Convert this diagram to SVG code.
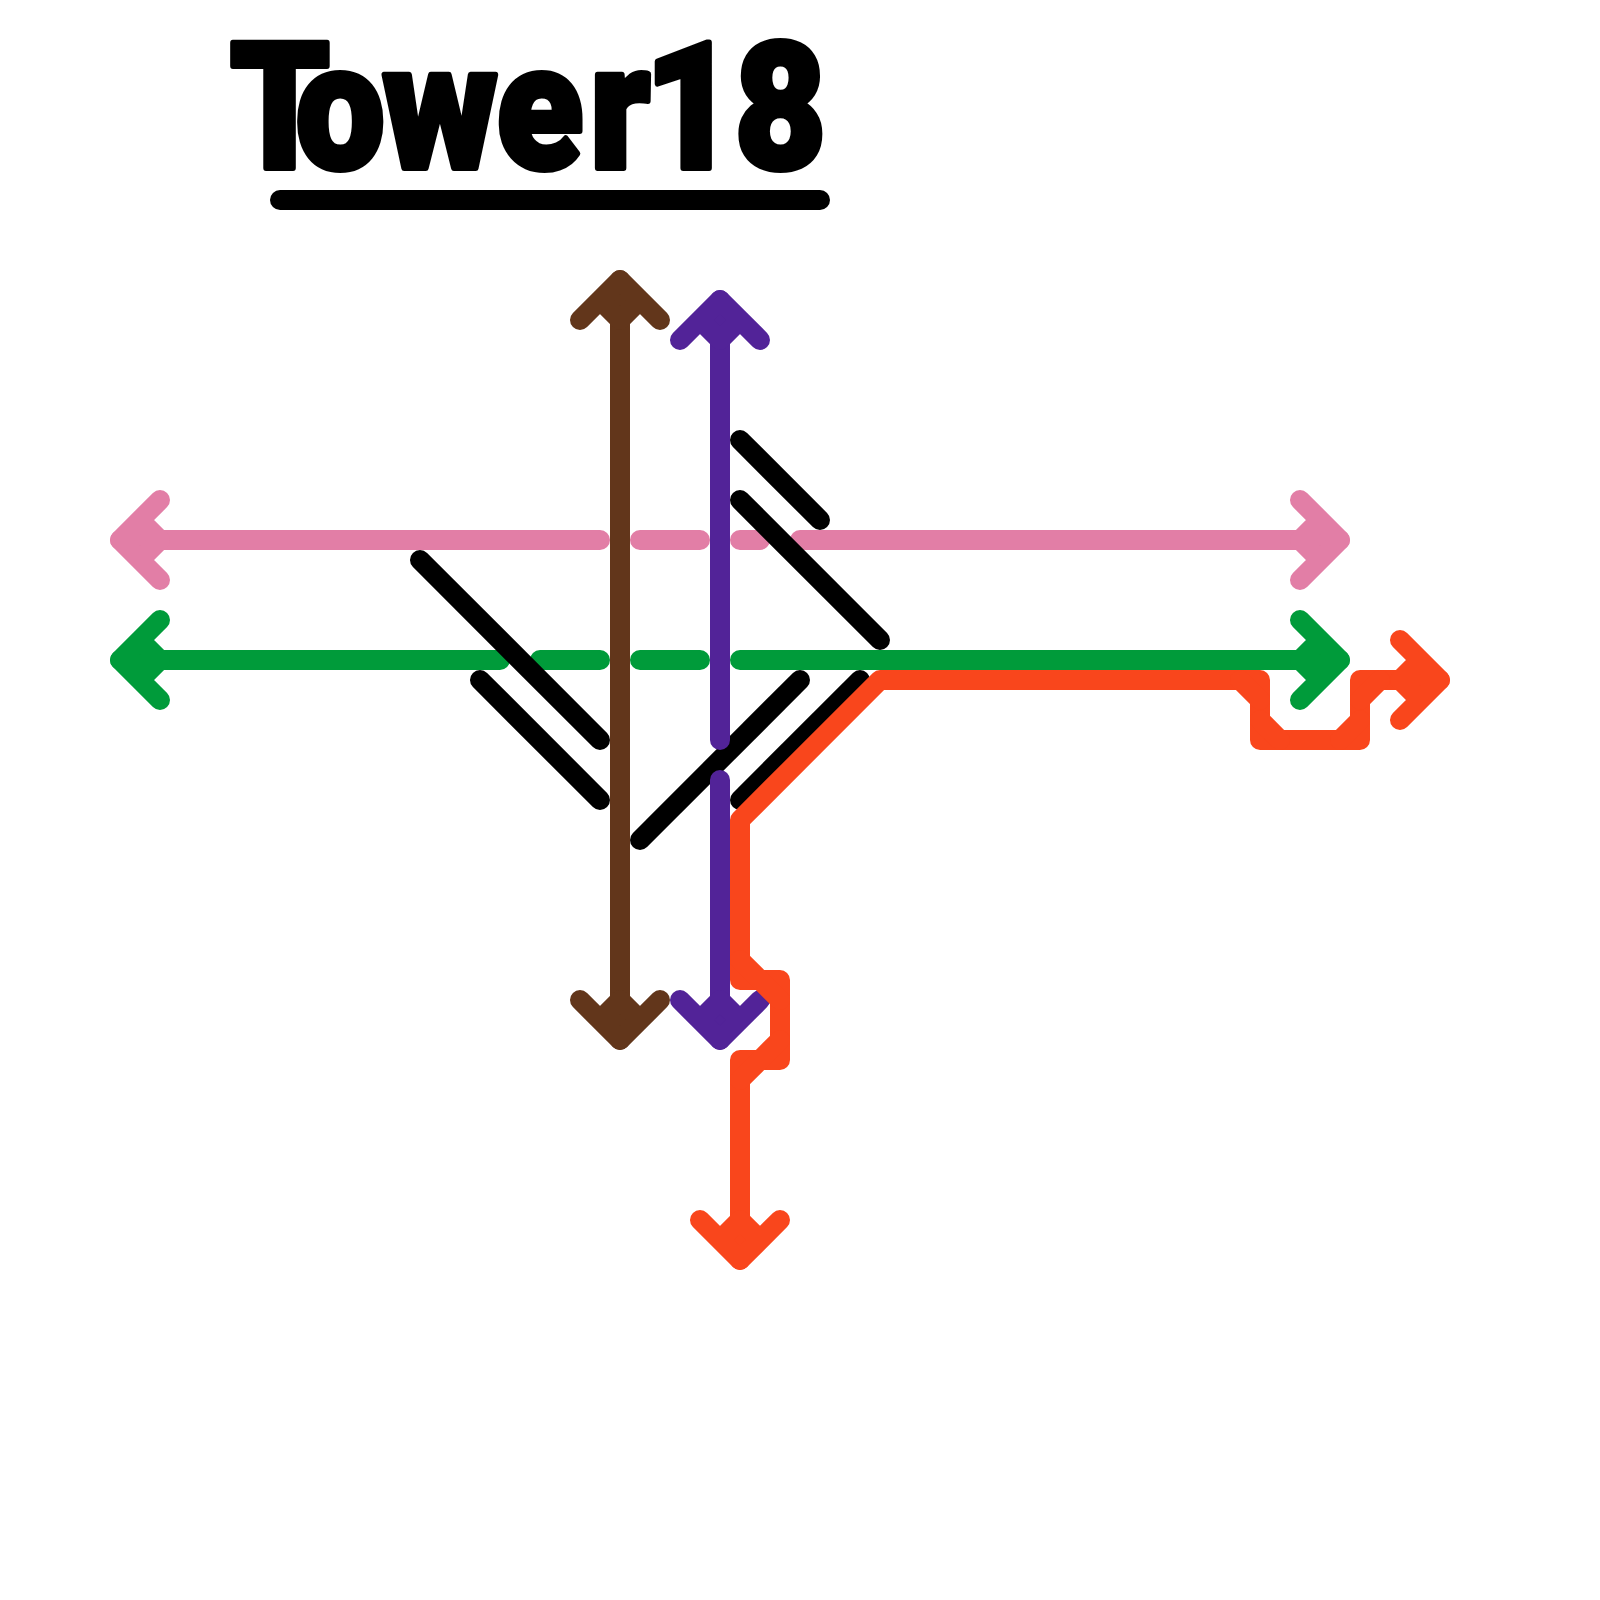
<svg xmlns="http://www.w3.org/2000/svg" width="1600" height="1600" viewBox="0 0 1600 1600">
<style>
.l{fill:none;stroke-width:20;stroke-linecap:round;stroke-linejoin:round}
.k{stroke:#000}.p{stroke:#E27EA6}.g{stroke:#009B3A}.b{stroke:#62361B}.u{stroke:#522398}.o{stroke:#F9461C}
.title{font-family:Roboto,"Liberation Sans",Arial,sans-serif;font-weight:900;font-size:176px;fill:#000;stroke:#000;stroke-width:6px;stroke-linejoin:round;text-anchor:middle}
</style>
<defs>
<path id="head" d="M-40-40L0 0L-40 40M-40 0L-20-20M-40 0L-20 20"/>
</defs>
<rect width="1600" height="1600" fill="#fff"/>
<g id="title">
<text class="title" transform="scale(.9 1)" x="311 378 489 600 689 722 767 867" y="168">Tower 18</text>
<path class="l k" d="M280 200H820"/>
</g>
<g id="connectors">
<g id="pink-line" class="l p">
<path d="M120 540H600M640 540H700M740 540H760M800 540H1340"/>
<use href="#head" transform="translate(1340 540)"/>
<use href="#head" transform="translate(120 540) rotate(180)"/>
</g>
<g id="green-line" class="l g">
<path d="M120 660H500M540 660H600M640 660H700M740 660H1340"/>
<use href="#head" transform="translate(1340 660)"/>
<use href="#head" transform="translate(120 660) rotate(180)"/>
</g>
<g id="black-lines" class="l k">
<path d="M420 560L600 740"/>
<path d="M480 680L600 800"/>
<path d="M640 840L800 680"/>
<path d="M740 800L860 680"/>
<path d="M740 440L820 520"/>
<path d="M740 500L880 640"/>
</g>
<g id="brown-line" class="l b">
<path d="M620 280V1040"/>
<use href="#head" transform="translate(620 280) rotate(-90)"/>
<use href="#head" transform="translate(620 1040) rotate(90)"/>
</g>
<g id="purple-line" class="l u">
<path d="M720 300V740M720 780V1040"/>
<use href="#head" transform="translate(720 300) rotate(-90)"/>
<use href="#head" transform="translate(720 1040) rotate(90)"/>
</g>
<g id="orange-line" class="l o">
<path d="M1440 680H1360V740H1260V680H880L740 820V980H780V1060H740V1260"/>
<path d="M1380 680L1360 700M1360 720L1340 740M1280 740L1260 720M1260 700L1240 680M740 960L760 980L780 1000M780 1040L760 1060L740 1080"/>
<use href="#head" transform="translate(1440 680)"/>
<use href="#head" transform="translate(740 1260) rotate(90)"/>
</g>
</g>
</svg>
